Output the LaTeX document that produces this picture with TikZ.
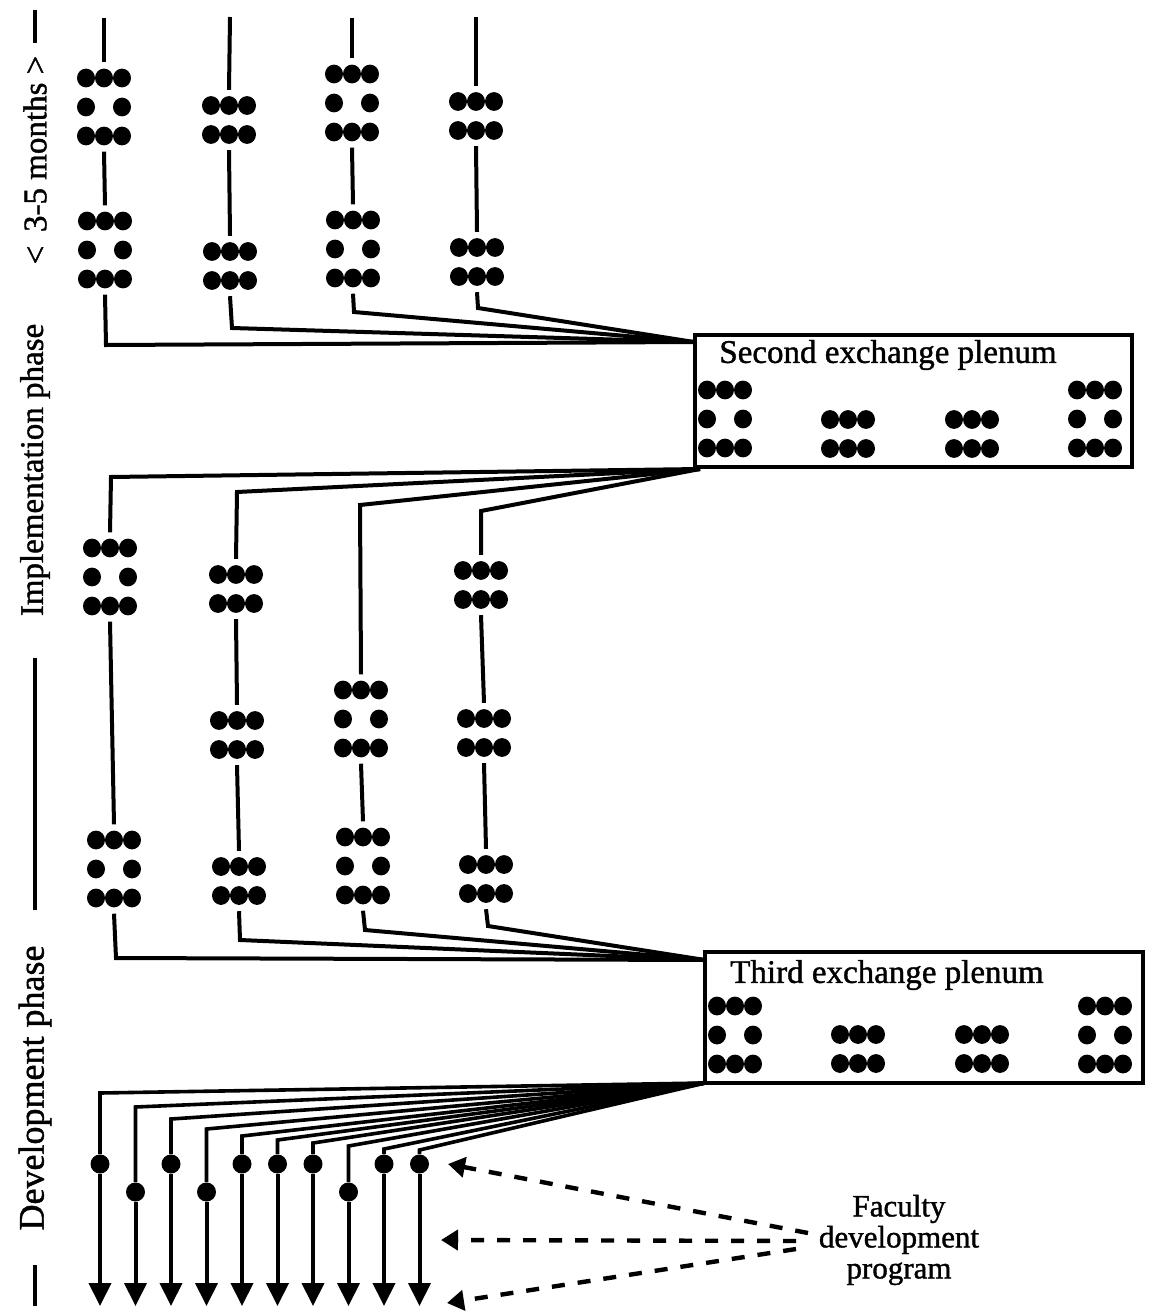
\documentclass[tikz,border=0pt]{standalone}
\usepackage{fontspec}
\setmainfont{Liberation Serif}[FakeBold=1.2]
\usetikzlibrary{arrows.meta,calc}
\newcommand\ringg[3]{%
  \node[grpA] (#1) at (#2,#3) {};
  \foreach \dx/\dy in {-18/-29,0/-29,18/-29,-18/0,18/0,-18/29,0/29,18/29}
    {\fill ($(#1)+(\dx,\dy)$) ellipse [x radius=9pt,y radius=9.4pt];}}
\newcommand\twog[3]{%
  \node[grpB] (#1) at (#2,#3) {};
  \foreach \dx/\dy in {-18/-14.5,0/-14.5,18/-14.5,-18/14.5,0/14.5,18/14.5}
    {\fill ($(#1)+(\dx,\dy)$) ellipse [x radius=9pt,y radius=9.4pt];}}
\begin{document}
\begin{tikzpicture}[x=1pt,y=-1pt,
  ln/.style={line width=4pt},
  grpA/.style={rectangle,minimum width=54pt,minimum height=89pt,inner sep=0pt},
  grpB/.style={rectangle,minimum width=54pt,minimum height=60pt,inner sep=0pt},
  dotn/.style={circle,fill=black,minimum size=19pt,inner sep=0pt,outer sep=0.5pt},
  plenum/.style={draw,line width=4pt,rectangle,inner sep=0pt},
  lbl/.style={font=\fontsize{33}{36}\selectfont,inner sep=0pt},
  fan/.style={line width=3.6pt},
  downarr/.style={line width=4pt,-{Triangle[width=22pt,length=23pt]}},
  fdparr/.style={line width=4.4pt,dash pattern=on 13pt off 13pt,-{Triangle[width=20pt,length=17pt]}}
]
\useasboundingbox (0,0) rectangle (1152,1313);

% ---------- left phase labels ----------
\coordinate (m1) at (35,10);
\coordinate (m2) at (35,43);
\draw[ln] (m1) -- (m2);
\node[lbl,rotate=90] (months) at (35,160) {<\, 3-5 months >};
\node[lbl,rotate=90] (impl) at (35,470) {Implementation phase};
\coordinate (l1) at (35,658);
\coordinate (l2) at (35,910);
\draw[ln] (l1) -- (l2);
\node[lbl,rotate=90,font=\fontsize{36}{38}\selectfont] (devp) at (35,1088) {Development phase};
\coordinate (b1) at (35,1265);
\coordinate (b2) at (35,1306);
\draw[ln] (b1) -- (b2);

% ---------- plenum boxes ----------
\node[plenum,minimum width=437pt,minimum height=132pt] (box2) at (913.5,401) {};
\node[lbl] (t2) at (888,355) {Second exchange plenum};
\ringg{s1}{725}{419}
\twog{s2}{848}{434}
\twog{s3}{972}{434}
\ringg{s4}{1095}{419}

\node[plenum,minimum width=438pt,minimum height=131pt] (box3) at (924,1017.5) {};
\node[lbl] (t3) at (887,975) {Third exchange plenum};
\ringg{u1}{735}{1035}
\twog{u2}{858}{1049}
\twog{u3}{982}{1049}
\ringg{u4}{1105}{1035}

\coordinate (c2in) at (694,342);
\coordinate (c2out) at (700,469);
\coordinate (c3in) at (705,960);
\coordinate (c3out) at (705,1083);

% ---------- top section ----------
\coordinate (a1t) at (104,18);
\ringg{a1g1}{104}{107}
\ringg{a1g2}{105}{250}
\coordinate (a1c) at (106,345);
\draw[ln] (a1t) -- (a1g1.north);
\draw[ln] (a1g1.south) -- (a1g2.north);
\draw[ln] (a1g2.south) -- (a1c) -- (c2in);

\coordinate (a2t) at (230,17);
\twog{a2g1}{229}{120}
\twog{a2g2}{230}{266}
\coordinate (a2c) at (232,328);
\draw[ln] (a2t) -- (a2g1.north);
\draw[ln] (a2g1.south) -- (a2g2.north);
\draw[ln] (a2g2.south) -- (a2c) -- (c2in);

\coordinate (a3t) at (352,18);
\ringg{a3g1}{352}{103}
\ringg{a3g2}{353}{249}
\coordinate (a3c) at (354,312);
\draw[ln] (a3t) -- (a3g1.north);
\draw[ln] (a3g1.south) -- (a3g2.north);
\draw[ln] (a3g2.south) -- (a3c) -- (c2in);

\coordinate (a4t) at (476,17);
\twog{a4g1}{476}{116}
\twog{a4g2}{477}{262}
\coordinate (a4c) at (478,308);
\draw[ln] (a4t) -- (a4g1.north);
\draw[ln] (a4g1.south) -- (a4g2.north);
\draw[ln] (a4g2.south) -- (a4c) -- (c2in);

% ---------- middle section ----------
\coordinate (b1t) at (111,477);
\ringg{b1g1}{110}{577}
\ringg{b1g2}{114}{869}
\coordinate (b1c) at (116,958);
\draw[ln] (c2out) -- (b1t) -- (b1g1.north);
\draw[ln] (b1g1.south) -- (b1g2.north);
\draw[ln] (b1g2.south) -- (b1c) -- (c3in);

\coordinate (b2t) at (237,492);
\twog{b2g1}{236}{589}
\twog{b2g2}{237}{735}
\twog{b2g3}{239}{881}
\coordinate (b2c) at (240,940);
\draw[ln] (c2out) -- (b2t) -- (b2g1.north);
\draw[ln] (b2g1.south) -- (b2g2.north);
\draw[ln] (b2g2.south) -- (b2g3.north);
\draw[ln] (b2g3.south) -- (b2c) -- (c3in);

\coordinate (b3t) at (360,505);
\ringg{b3g1}{361}{719}
\ringg{b3g2}{363}{866}
\coordinate (b3c) at (365,930);
\draw[ln] (c2out) -- (b3t) -- (b3g1.north);
\draw[ln] (b3g1.south) -- (b3g2.north);
\draw[ln] (b3g2.south) -- (b3c) -- (c3in);

\coordinate (b4t) at (481,511);
\twog{b4g1}{481}{585}
\twog{b4g2}{484}{733}
\twog{b4g3}{486}{879}
\coordinate (b4c) at (488,926);
\draw[ln] (c2out) -- (b4t) -- (b4g1.north);
\draw[ln] (b4g1.south) -- (b4g2.north);
\draw[ln] (b4g2.south) -- (b4g3.north);
\draw[ln] (b4g3.south) -- (b4c) -- (c3in);

% ---------- bottom fan ----------
\foreach \i/\x/\hy/\dy in {1/100/1093/1164, 2/135.5/1107/1192, 3/171/1119/1164,
    4/206.5/1129/1192, 5/242/1136/1164, 6/277.5/1140/1164, 7/313/1143/1164,
    8/348.5/1146/1192, 9/384/1149/1164, 10/419.5/1150/1164}{
  \coordinate (k\i) at (\x,\hy);
  \node[dotn] (d\i) at (\x,\dy) {};
  \coordinate (e\i) at (\x,1306);
  \draw[fan] (c3out) -- (k\i) -- (d\i.north);
  \draw[downarr] (d\i.south) -- (e\i);
}

% ---------- faculty development program ----------
\node[font=\fontsize{31}{31}\selectfont,align=center,inner sep=0pt] (fdp) at (899,1240)
  {Faculty\\development\\program};
\coordinate (f1) at (808,1233);
\coordinate (f2) at (796,1241);
\coordinate (f3) at (796,1249);
\coordinate (g1) at (448,1164);
\coordinate (g2) at (441,1240);
\coordinate (g3) at (447,1303);
\draw[fdparr] (f1) -- (g1);
\draw[fdparr] (f2) -- (g2);
\draw[fdparr] (f3) -- (g3);
\end{tikzpicture}
\end{document}
